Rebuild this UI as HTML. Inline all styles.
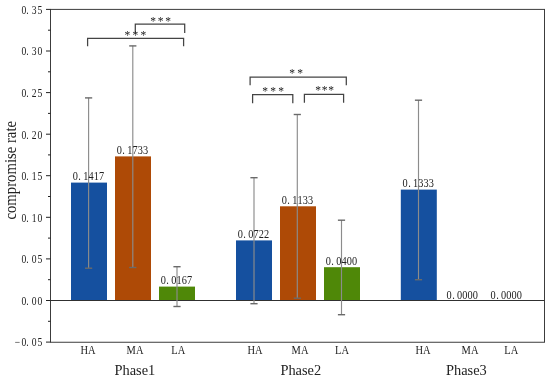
<!DOCTYPE html><html><head><meta charset="utf-8"><title>chart</title>
<style>html,body{margin:0;padding:0;background:#fff}svg{display:block;will-change:transform}text{font-family:"Liberation Serif",serif;fill:#222}</style></head><body>
<svg width="550" height="382" viewBox="0 0 550 382">
<rect width="550" height="382" fill="#fff"/>
<rect x="71" y="182.6" width="36" height="117.9" fill="#15509f"/>
<rect x="115" y="156.4" width="36" height="144.1" fill="#ae4a06"/>
<rect x="159" y="286.6" width="36" height="13.9" fill="#4f8808"/>
<rect x="236" y="240.4" width="36" height="60.1" fill="#15509f"/>
<rect x="280" y="206.3" width="36" height="94.2" fill="#ae4a06"/>
<rect x="324" y="267.2" width="36" height="33.3" fill="#4f8808"/>
<rect x="400.8" y="189.6" width="36" height="110.9" fill="#15509f"/>
<rect x="50.5" y="9.4" width="494.0" height="332.85" fill="none" stroke="#3c3c3c" stroke-width="1"/>
<line x1="50.5" y1="300.5" x2="544.5" y2="300.5" stroke="#303030" stroke-width="1"/>
<line x1="46.0" y1="342.1" x2="50.5" y2="342.1" stroke="#222" stroke-width="1"/>
<line x1="48.0" y1="321.3" x2="50.5" y2="321.3" stroke="#222" stroke-width="1"/>
<line x1="46.0" y1="300.5" x2="50.5" y2="300.5" stroke="#222" stroke-width="1"/>
<line x1="48.0" y1="279.7" x2="50.5" y2="279.7" stroke="#222" stroke-width="1"/>
<line x1="46.0" y1="258.9" x2="50.5" y2="258.9" stroke="#222" stroke-width="1"/>
<line x1="48.0" y1="238.1" x2="50.5" y2="238.1" stroke="#222" stroke-width="1"/>
<line x1="46.0" y1="217.3" x2="50.5" y2="217.3" stroke="#222" stroke-width="1"/>
<line x1="48.0" y1="196.5" x2="50.5" y2="196.5" stroke="#222" stroke-width="1"/>
<line x1="46.0" y1="175.7" x2="50.5" y2="175.7" stroke="#222" stroke-width="1"/>
<line x1="48.0" y1="154.9" x2="50.5" y2="154.9" stroke="#222" stroke-width="1"/>
<line x1="46.0" y1="134.2" x2="50.5" y2="134.2" stroke="#222" stroke-width="1"/>
<line x1="48.0" y1="113.4" x2="50.5" y2="113.4" stroke="#222" stroke-width="1"/>
<line x1="46.0" y1="92.6" x2="50.5" y2="92.6" stroke="#222" stroke-width="1"/>
<line x1="48.0" y1="71.8" x2="50.5" y2="71.8" stroke="#222" stroke-width="1"/>
<line x1="46.0" y1="51.0" x2="50.5" y2="51.0" stroke="#222" stroke-width="1"/>
<line x1="48.0" y1="30.2" x2="50.5" y2="30.2" stroke="#222" stroke-width="1"/>
<line x1="46.0" y1="9.4" x2="50.5" y2="9.4" stroke="#222" stroke-width="1"/>
<text transform="scale(0.8,1)" x="21.87 29.75 34.37 42.75 49.75" y="346.5" font-size="12" text-anchor="middle" fill="#444">−0.05</text>
<text transform="scale(0.8,1)" x="29.75 34.37 42.75 49.75" y="304.9" font-size="12" text-anchor="middle" fill="#444">0.00</text>
<text transform="scale(0.8,1)" x="29.75 34.37 42.75 49.75" y="263.3" font-size="12" text-anchor="middle" fill="#444">0.05</text>
<text transform="scale(0.8,1)" x="29.75 34.37 42.75 49.75" y="221.7" font-size="12" text-anchor="middle" fill="#444">0.10</text>
<text transform="scale(0.8,1)" x="29.75 34.37 42.75 49.75" y="180.1" font-size="12" text-anchor="middle" fill="#444">0.15</text>
<text transform="scale(0.8,1)" x="29.75 34.37 42.75 49.75" y="138.6" font-size="12" text-anchor="middle" fill="#444">0.20</text>
<text transform="scale(0.8,1)" x="29.75 34.37 42.75 49.75" y="97.0" font-size="12" text-anchor="middle" fill="#444">0.25</text>
<text transform="scale(0.8,1)" x="29.75 34.37 42.75 49.75" y="55.4" font-size="12" text-anchor="middle" fill="#444">0.30</text>
<text transform="scale(0.8,1)" x="29.75 34.37 42.75 49.75" y="13.8" font-size="12" text-anchor="middle" fill="#444">0.35</text>
<line x1="88.6" y1="97.7" x2="88.6" y2="268" stroke="#8c8c8c" stroke-width="1.15"/>
<line x1="85.0" y1="97.9" x2="92.19999999999999" y2="97.9" stroke="#6a6a6a" stroke-width="1.4"/>
<line x1="85.0" y1="268.2" x2="92.19999999999999" y2="268.2" stroke="#6a6a6a" stroke-width="1.4"/>
<line x1="132.8" y1="45.7" x2="132.8" y2="267.3" stroke="#8c8c8c" stroke-width="1.15"/>
<line x1="129.20000000000002" y1="45.900000000000006" x2="136.4" y2="45.900000000000006" stroke="#6a6a6a" stroke-width="1.4"/>
<line x1="129.20000000000002" y1="267.5" x2="136.4" y2="267.5" stroke="#6a6a6a" stroke-width="1.4"/>
<line x1="177" y1="266.5" x2="177" y2="306.3" stroke="#8c8c8c" stroke-width="1.15"/>
<line x1="173.4" y1="266.7" x2="180.6" y2="266.7" stroke="#6a6a6a" stroke-width="1.4"/>
<line x1="173.4" y1="306.5" x2="180.6" y2="306.5" stroke="#6a6a6a" stroke-width="1.4"/>
<line x1="254" y1="177.5" x2="254" y2="303.5" stroke="#8c8c8c" stroke-width="1.15"/>
<line x1="250.4" y1="177.7" x2="257.6" y2="177.7" stroke="#6a6a6a" stroke-width="1.4"/>
<line x1="250.4" y1="303.7" x2="257.6" y2="303.7" stroke="#6a6a6a" stroke-width="1.4"/>
<line x1="297.3" y1="114.3" x2="297.3" y2="298" stroke="#8c8c8c" stroke-width="1.15"/>
<line x1="293.7" y1="114.5" x2="300.90000000000003" y2="114.5" stroke="#6a6a6a" stroke-width="1.4"/>
<line x1="293.7" y1="298.2" x2="300.90000000000003" y2="298.2" stroke="#6a6a6a" stroke-width="1.4"/>
<line x1="341.5" y1="220" x2="341.5" y2="314.5" stroke="#8c8c8c" stroke-width="1.15"/>
<line x1="337.9" y1="220.2" x2="345.1" y2="220.2" stroke="#6a6a6a" stroke-width="1.4"/>
<line x1="337.9" y1="314.7" x2="345.1" y2="314.7" stroke="#6a6a6a" stroke-width="1.4"/>
<line x1="418.5" y1="100" x2="418.5" y2="279.5" stroke="#8c8c8c" stroke-width="1.15"/>
<line x1="414.9" y1="100.2" x2="422.1" y2="100.2" stroke="#6a6a6a" stroke-width="1.4"/>
<line x1="414.9" y1="279.7" x2="422.1" y2="279.7" stroke="#6a6a6a" stroke-width="1.4"/>
<text transform="translate(72.75,180.3) scale(0.86,1)" x="3.05 7.99 15.26 21.37 27.47 33.58" y="0" font-size="12" text-anchor="middle" fill="#3c3c3c">0.1417</text>
<text transform="translate(116.75,154.1) scale(0.86,1)" x="3.05 7.99 15.26 21.37 27.47 33.58" y="0" font-size="12" text-anchor="middle" fill="#3c3c3c">0.1733</text>
<text transform="translate(160.75,284.3) scale(0.86,1)" x="3.05 7.99 15.26 21.37 27.47 33.58" y="0" font-size="12" text-anchor="middle" fill="#3c3c3c">0.0167</text>
<text transform="translate(237.75,238.1) scale(0.86,1)" x="3.05 7.99 15.26 21.37 27.47 33.58" y="0" font-size="12" text-anchor="middle" fill="#3c3c3c">0.0722</text>
<text transform="translate(281.75,204.0) scale(0.86,1)" x="3.05 7.99 15.26 21.37 27.47 33.58" y="0" font-size="12" text-anchor="middle" fill="#3c3c3c">0.1133</text>
<text transform="translate(325.75,264.9) scale(0.86,1)" x="3.05 7.99 15.26 21.37 27.47 33.58" y="0" font-size="12" text-anchor="middle" fill="#3c3c3c">0.0400</text>
<text transform="translate(402.55,187.3) scale(0.86,1)" x="3.05 7.99 15.26 21.37 27.47 33.58" y="0" font-size="12" text-anchor="middle" fill="#3c3c3c">0.1333</text>
<text transform="translate(446.55,298.8) scale(0.86,1)" x="3.05 7.99 15.26 21.37 27.47 33.58" y="0" font-size="12" text-anchor="middle" fill="#3c3c3c">0.0000</text>
<text transform="translate(490.55,298.8) scale(0.86,1)" x="3.05 7.99 15.26 21.37 27.47 33.58" y="0" font-size="12" text-anchor="middle" fill="#3c3c3c">0.0000</text>
<path d="M135.3 33.1V24.2H184.7V33.1" fill="none" stroke="#444" stroke-width="1.25"/>
<text x="153.20 160.70 168.20" y="24.80" font-size="11.5" text-anchor="middle" fill="#6a6a6a">***</text>
<path d="M87.6 46.2V38.4H183.6V46.2" fill="none" stroke="#444" stroke-width="1.25"/>
<text x="127.40 135.40 143.40" y="39.30" font-size="11.5" text-anchor="middle" fill="#6a6a6a">***</text>
<path d="M250.1 85.2V77.0H346.3V85.2" fill="none" stroke="#444" stroke-width="1.25"/>
<text x="292.00 300.00" y="77.41" font-size="11.5" text-anchor="middle" fill="#6a6a6a">**</text>
<path d="M252.6 103.2V94.6H292.8V103.2" fill="none" stroke="#444" stroke-width="1.25"/>
<text x="265.20 273.20 281.20" y="94.81" font-size="11.5" text-anchor="middle" fill="#6a6a6a">***</text>
<path d="M304.4 102.8V94.3H343.6V102.8" fill="none" stroke="#444" stroke-width="1.25"/>
<text x="318.20 324.70 331.20" y="93.61" font-size="11.5" text-anchor="middle" fill="#6a6a6a">***</text>
<text transform="translate(88,353.8) scale(0.91,1)" font-size="11.5" text-anchor="middle">HA</text>
<text transform="translate(135,353.8) scale(0.91,1)" font-size="11.5" text-anchor="middle">MA</text>
<text transform="translate(178.3,353.8) scale(0.91,1)" font-size="11.5" text-anchor="middle">LA</text>
<text transform="translate(255,353.8) scale(0.91,1)" font-size="11.5" text-anchor="middle">HA</text>
<text transform="translate(300,353.8) scale(0.91,1)" font-size="11.5" text-anchor="middle">MA</text>
<text transform="translate(342,353.8) scale(0.91,1)" font-size="11.5" text-anchor="middle">LA</text>
<text transform="translate(423,353.8) scale(0.91,1)" font-size="11.5" text-anchor="middle">HA</text>
<text transform="translate(470,353.8) scale(0.91,1)" font-size="11.5" text-anchor="middle">MA</text>
<text transform="translate(511.3,353.8) scale(0.91,1)" font-size="11.5" text-anchor="middle">LA</text>
<text transform="translate(134.9,374.5) scale(0.93,1)" font-size="15.5" text-anchor="middle">Phase1</text>
<text transform="translate(300.8,374.5) scale(0.93,1)" font-size="15.5" text-anchor="middle">Phase2</text>
<text transform="translate(466.4,374.5) scale(0.93,1)" font-size="15.5" text-anchor="middle">Phase3</text>
<text transform="translate(15.7,170.3) rotate(-90) scale(0.922,1)" font-size="16" text-anchor="middle">compromise rate</text>
</svg></body></html>
